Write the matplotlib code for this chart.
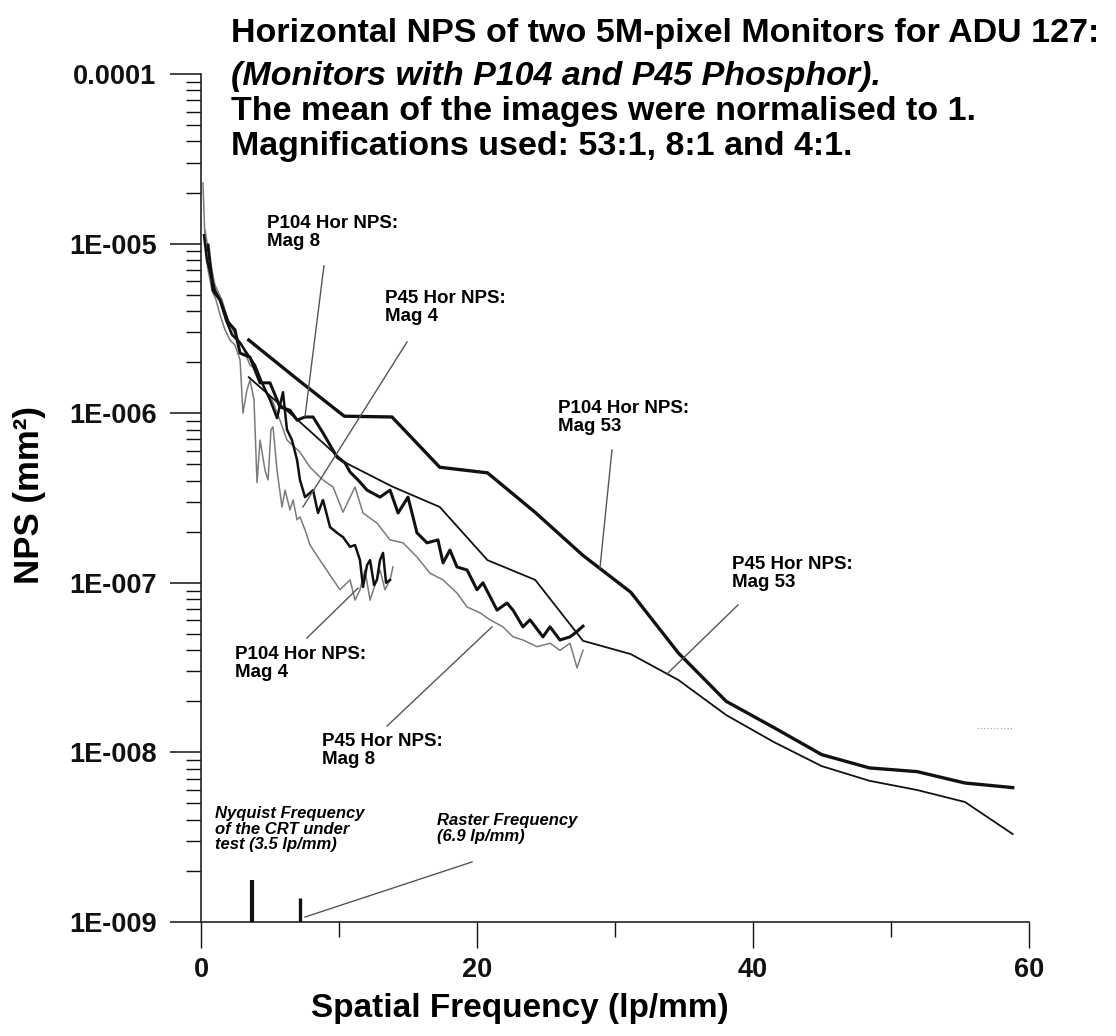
import matplotlib
matplotlib.use("Agg")
import matplotlib.pyplot as plt
from matplotlib.ticker import FixedLocator, NullFormatter

plt.rcParams['font.family'] = ['Liberation Sans', 'DejaVu Sans']

# ---------------- data ----------------
freq_mag53 = [3.46, 6.92, 10.38, 13.84, 17.3, 20.76, 24.22, 27.68, 31.14, 34.6,
              38.06, 41.52, 44.98, 48.44, 51.9, 55.36, 58.82]
p104_mag53 = [2.7e-6, 1.6e-6, 9.6e-7, 9.5e-7, 4.8e-7, 4.45e-7, 2.6e-7, 1.45e-7, 8.8e-8,
              3.85e-8, 2.0e-8, 1.4e-8, 9.7e-9, 8.1e-9, 7.7e-9, 6.6e-9, 6.2e-9]
p45_mag53 = [1.63e-6, 9.25e-7, 5.15e-7, 3.7e-7, 2.8e-7, 1.36e-7, 1.04e-7, 4.55e-8, 3.8e-8,
             2.67e-8, 1.66e-8, 1.15e-8, 8.3e-9, 6.8e-9, 6.0e-9, 5.1e-9, 3.3e-9]

freq_p104_mag8 = [0.51, 0.87, 1.38, 1.96, 2.46, 2.83, 3.55, 4.28, 5.0, 5.72, 6.45, 6.96, 7.54,
                  8.12, 8.84, 9.86, 10.43, 10.80, 11.38, 12.03, 12.97, 13.70, 14.28, 15.0,
                  15.65, 16.38, 17.17, 17.54, 18.04, 18.55, 19.28, 20.0, 20.43, 21.45, 22.17,
                  22.61, 23.33, 23.84, 24.78, 25.29, 26.01, 26.74, 27.17, 27.68]
p104_mag8 = [9.8e-6, 5.3e-6, 4.65e-6, 3.45e-6, 3.1e-6, 2.26e-6, 2.14e-6, 1.51e-6, 1.51e-6,
             1.09e-6, 1.04e-6, 9.1e-7, 9.5e-7, 9.5e-7, 7.65e-7, 5.5e-7, 5.1e-7, 4.5e-7,
             4.04e-7, 3.52e-7, 3.2e-7, 3.52e-7, 2.58e-7, 3.2e-7, 1.97e-7, 1.72e-7, 1.79e-7,
             1.31e-7, 1.56e-7, 1.24e-7, 1.19e-7, 9.1e-8, 1.0e-7, 6.9e-8, 7.6e-8, 6.9e-8,
             5.5e-8, 6.05e-8, 4.8e-8, 5.5e-8, 4.6e-8, 4.8e-8, 5.1e-8, 5.55e-8]

freq_p104_mag4 = [0.22, 0.43, 0.72, 1.01, 1.38, 1.81, 2.25, 2.83, 3.41, 3.91, 4.42, 5.0, 5.51,
                  5.94, 6.23, 6.59, 6.96, 7.17, 7.54, 8.12, 8.48, 8.84, 9.35, 9.86, 10.29,
                  10.80, 11.16, 11.52, 11.74, 12.03, 12.25, 12.54, 12.75, 12.97, 13.19,
                  13.41, 13.70]
p104_mag4 = [1.12e-5, 8.0e-6, 6.5e-6, 5.3e-6, 4.65e-6, 3.55e-6, 2.9e-6, 2.6e-6, 2.2e-6,
             1.92e-6, 1.51e-6, 1.2e-6, 9.35e-7, 1.33e-6, 8.0e-7, 6.95e-7, 5.3e-7, 4.04e-7,
             3.2e-7, 3.52e-7, 2.58e-7, 3.08e-7, 2.13e-7, 1.97e-7, 1.86e-7, 1.63e-7, 1.67e-7,
             1.36e-7, 9.45e-8, 1.27e-7, 1.36e-7, 9.7e-8, 1.04e-7, 1.36e-7, 1.5e-7, 1.0e-7,
             1.04e-7]

freq_p45_mag8 = [0.29, 0.65, 1.01, 1.52, 1.96, 2.46, 2.97, 3.55, 4.06, 4.64, 5.14, 5.72, 6.23,
                 7.17, 7.90, 8.84, 9.57, 10.29, 11.16, 11.74, 12.75, 13.70, 14.64, 15.65,
                 16.59, 17.54, 18.55, 19.28, 20.22, 20.94, 21.88, 22.61, 23.33, 24.35, 25.29,
                 26.01, 26.74, 27.25, 27.68]
p45_mag8 = [1.2e-5, 8.0e-6, 5.7e-6, 4.65e-6, 3.55e-6, 2.9e-6, 2.52e-6, 1.92e-6, 1.8e-6,
            1.37e-6, 1.2e-6, 9.1e-7, 6.95e-7, 5.9e-7, 4.8e-7, 4.04e-7, 3.67e-7, 2.61e-7,
            3.67e-7, 2.58e-7, 2.25e-7, 1.79e-7, 1.72e-7, 1.42e-7, 1.14e-7, 1.04e-7, 8.7e-8,
            7.2e-8, 6.65e-8, 6.05e-8, 5.5e-8, 4.8e-8, 4.6e-8, 4.2e-8, 4.4e-8, 4.0e-8, 4.4e-8,
            3.15e-8, 4.0e-8]

freq_p45_mag4 = [0.14, 0.29, 0.51, 0.80, 1.09, 1.38, 1.74, 2.10, 2.46, 2.83, 3.04, 3.33, 3.55,
                 3.84, 4.06, 4.28, 4.64, 4.86, 5.07, 5.22, 5.51, 5.87, 6.09, 6.45, 6.67, 6.96,
                 7.17, 7.54, 7.90, 8.62, 9.35, 10.07, 10.80, 11.16, 11.52, 11.88, 12.25,
                 12.61, 12.97, 13.33, 13.70, 13.91]
p45_mag4 = [2.28e-5, 1.05e-5, 7.0e-6, 5.3e-6, 4.65e-6, 3.8e-6, 3.1e-6, 2.7e-6, 2.52e-6,
            2.06e-6, 1.0e-6, 1.37e-6, 1.57e-6, 1.2e-6, 3.9e-7, 6.95e-7, 4.6e-7, 4.04e-7,
            8.0e-7, 8.3e-7, 4.6e-7, 2.8e-7, 3.52e-7, 2.69e-7, 3.08e-7, 2.35e-7, 2.45e-7,
            2.05e-7, 1.67e-7, 1.36e-7, 1.11e-7, 9.1e-8, 1.04e-7, 7.9e-8, 9.1e-8, 1.19e-7,
            7.9e-8, 9.7e-8, 1.19e-7, 9.1e-8, 1.04e-7, 1.24e-7]

# Nyquist and raster frequency markers (as drawn)
marker_freqs = [3.7, 7.15]
marker_tops = [1.77e-9, 1.39e-9]

y_tick_values = [1e-9, 1e-8, 1e-7, 1e-6, 1e-5, 1e-4]
y_tick_labels = ["1E-009", "1E-008", "1E-007", "1E-006", "1E-005", "0.0001"]
x_tick_values = [0, 20, 40, 60]
x_minor_values = [10, 30, 50]

title_lines = ["Horizontal NPS of two 5M-pixel Monitors for ADU 127:",
               "(Monitors with P104 and P45 Phosphor).",
               "The mean of the images were normalised to 1.",
               "Magnifications used: 53:1, 8:1 and 4:1."]

# ---------------- figure ----------------
W, H = 1116, 1036
fig = plt.figure(figsize=(W / 100, H / 100), dpi=100)
fig.patch.set_facecolor('white')
ax = fig.add_axes([201 / W, 1 - 922 / H, (1029 - 201) / W, (922 - 74) / H])
ax.set_yscale('log')
ax.set_xlim(0, 60)
ax.set_ylim(1e-9, 1e-4)
for s in ['top', 'right']:
    ax.spines[s].set_visible(False)
for s in ['left', 'bottom']:
    ax.spines[s].set_linewidth(1.2)
    ax.spines[s].set_color('#222222')

gray = '#7a7a7a'
ax.plot(freq_p45_mag4, p45_mag4, color=gray, lw=1.1, zorder=2)
ax.plot(freq_p45_mag8, p45_mag8, color=gray, lw=1.1, zorder=2)
ax.plot(freq_p104_mag4, p104_mag4, color='#111111', lw=1.8, zorder=3)
ax.plot(freq_p104_mag8, p104_mag8, color='#111111', lw=2.2, zorder=3)
ax.plot(freq_mag53, p45_mag53, color='#111111', lw=1.3, zorder=3)
ax.plot(freq_mag53, p104_mag53, color='#111111', lw=2.4, zorder=3)

ax.vlines(marker_freqs[0], 1e-9, marker_tops[0], color='#111111', lw=3.0, zorder=4)
ax.vlines(marker_freqs[1], 1e-9, marker_tops[1], color='#111111', lw=2.4, zorder=4)

# ticks
ax.yaxis.set_major_locator(FixedLocator(y_tick_values))
ax.set_yticklabels(y_tick_labels)
minor_y = [m * 10.0 ** e for e in range(-9, -4) for m in range(2, 10)]
ax.yaxis.set_minor_locator(FixedLocator(minor_y))
ax.yaxis.set_minor_formatter(NullFormatter())
ax.xaxis.set_major_locator(FixedLocator(x_tick_values))
ax.xaxis.set_minor_locator(FixedLocator(x_minor_values))
ax.set_xticklabels([str(v) for v in x_tick_values])
ax.tick_params(axis='y', which='major', length=22, width=1.1, pad=10, labelsize=19.5,
               direction='out', colors='#111111')
ax.tick_params(axis='y', which='minor', length=10.5, width=1.0, direction='out', colors='#111111')
ax.tick_params(axis='x', which='major', length=19, width=1.0, pad=6, labelsize=19.5,
               direction='out', colors='#111111')
ax.tick_params(axis='x', which='minor', length=10.5, width=1.0, direction='out', colors='#111111')
for lab in ax.get_yticklabels() + ax.get_xticklabels():
    lab.set_fontweight('bold')

# axis titles
fig.text(30 / W, 1 - 495 / H, "NPS (mm²)", rotation=90, ha='center', va='center',
         fontsize=25, fontweight='bold')
fig.text(520 / W, 1 - 1009 / H, "Spatial Frequency (lp/mm)", ha='center', va='center',
         fontsize=24, fontweight='bold')

# title block
title_baselines = [42, 85, 120, 155]
for i, (line, yb) in enumerate(zip(title_lines, title_baselines)):
    fig.text(231 / W, 1 - yb / H, line, ha='left', va='baseline', fontsize=24.5,
             fontweight='bold', style='italic' if i == 1 else 'normal')

# annotations: (text, text top-left px, line start (data), line end (data))
ann_color = '#555555'
annotations = [
    ("P104 Hor NPS:\nMag 8", (267, 215), (8.91, 7.4e-6), (7.54, 9.6e-7)),
    ("P45 Hor NPS:\nMag 4", (385, 290), (14.93, 2.63e-6), (7.39, 2.8e-7)),
    ("P104 Hor NPS:\nMag 53", (558, 400), (29.78, 6.07e-7), (28.91, 1.22e-7)),
    ("P45 Hor NPS:\nMag 53", (732, 556), (38.91, 7.4e-8), (33.84, 2.94e-8)),
    ("P104 Hor NPS:\nMag 4", (235, 646), (7.68, 4.73e-8), (11.38, 9.3e-8)),
    ("P45 Hor NPS:\nMag 8", (322, 733), (13.48, 1.43e-8), (21.09, 5.5e-8)),
]
for txt, (tx, ty), p0, p1 in annotations:
    fig.text(tx / W, 1 - ty / H, txt, ha='left', va='top', fontsize=13.5,
             fontweight='bold', linespacing=1.05)
    ax.plot([p0[0], p1[0]], [p0[1], p1[1]], color=ann_color, lw=1.0, zorder=5)

fig.text(215 / W, 1 - 806 / H, "Nyquist Frequency\nof the CRT under\ntest (3.5 lp/mm)",
         ha='left', va='top', fontsize=12, fontweight='bold', style='italic', linespacing=1.05)
fig.text(437 / W, 1 - 813 / H, "Raster Frequency\n(6.9 lp/mm)",
         ha='left', va='top', fontsize=12, fontweight='bold', style='italic', linespacing=1.05)
ax.plot([7.54, 19.64], [1.07e-9, 2.26e-9], color=ann_color, lw=1.0, zorder=5)

# small stray dashed mark seen at the right of the reference
ax.plot([56.2, 58.8], [1.39e-8, 1.39e-8], color='#999999', lw=0.8, ls=(0, (1, 2)), zorder=1)

fig.savefig("out.png", dpi=100, facecolor='white')
